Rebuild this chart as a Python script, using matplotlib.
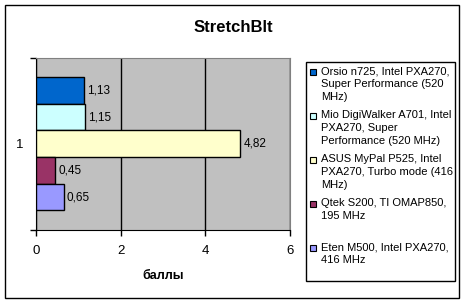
import matplotlib.pyplot as plt
from matplotlib.patches import Rectangle

plt.rcParams['font.family'] = ['Liberation Sans', 'DejaVu Sans']

# Данные
series = ['Orsio n725, Intel PXA270,\nSuper Performance (520\nMHz)',
          'Mio DigiWalker A701, Intel\nPXA270, Super\nPerformance (520 MHz)',
          'ASUS MyPal P525, Intel\nPXA270, Turbo mode (416\nMHz)',
          'Qtek S200, TI OMAP850,\n195 MHz',
          'Eten M500, Intel PXA270,\n416 MHz']
values = [1.13, 1.15, 4.82, 0.45, 0.65]
colors = ['#0066CC', '#CCFFFF', '#FFFFCC', '#993366', '#9999FF']
category = '1'
xticks = [0, 2, 4, 6]

W, H = 465, 303
fig = plt.figure(figsize=(W / 100, H / 100), dpi=100)

# рамка вокруг диаграммы
fig.patches.append(Rectangle((5 / W, 5 / H), 454 / W, 293 / H, transform=fig.transFigure,
                             fill=False, edgecolor='black', linewidth=1))

ax = fig.add_axes([36 / W, 1 - 230 / H, 254 / W, 172.5 / H])
ax.set_facecolor('#C0C0C0')

n = len(values)
h = 0.773 / n
for i, (v, c) in enumerate(zip(values, colors)):
    y = (n - 1) / 2 * h - i * h
    ax.barh(y, v, height=h, color=c, edgecolor='black', linewidth=1, zorder=3)
    ax.text(v + 0.08, y, f'{v:.2f}'.replace('.', ','), va='center', ha='left', fontsize=8.5, zorder=4)

ax.set_xlim(0, 6)
ax.set_ylim(-0.5, 0.5)
ax.set_xticks(xticks)
ax.set_xticklabels([str(t) for t in xticks], fontsize=9.5)
ax.set_yticks([-0.5, 0.5])
ax.set_yticklabels(['', ''])
ax.set_yticks([0], minor=True)
ax.set_yticklabels([category], minor=True, fontsize=9.5)
ax.tick_params(axis='y', which='minor', length=0, pad=9)
ax.tick_params(axis='y', which='major', direction='out', length=4, width=1)
ax.tick_params(axis='x', direction='out', length=4, width=1, pad=7)
ax.grid(axis='x', color='black', linewidth=1, zorder=1)
ax.set_axisbelow(True)
for s in ['top', 'right']:
    ax.spines[s].set_color('#808080')
for s in ['left', 'bottom']:
    ax.spines[s].set_color('black')

ax.set_xlabel('баллы', fontsize=9, fontweight='bold', labelpad=9)
fig.text(233 / W, 1 - 27 / H, 'StretchBlt', ha='center', va='center', fontsize=12, fontweight='bold')

# легенда
fig.patches.append(Rectangle((306 / W, 1 - 281 / H), 149 / W, 219 / H, transform=fig.transFigure,
                             facecolor='white', edgecolor='black', linewidth=1))
for i, (lab, c) in enumerate(zip(series, colors)):
    ytop = 66 + i * 44
    fig.patches.append(Rectangle((310 / W, 1 - (ytop + 9) / H), 6 / W, 6 / H, transform=fig.transFigure,
                                 facecolor=c, edgecolor='black', linewidth=0.8))
    fig.text(321 / W, 1 - ytop / H, lab, ha='left', va='top', fontsize=8, linespacing=1.4)

fig.savefig('out.png', dpi=100)
